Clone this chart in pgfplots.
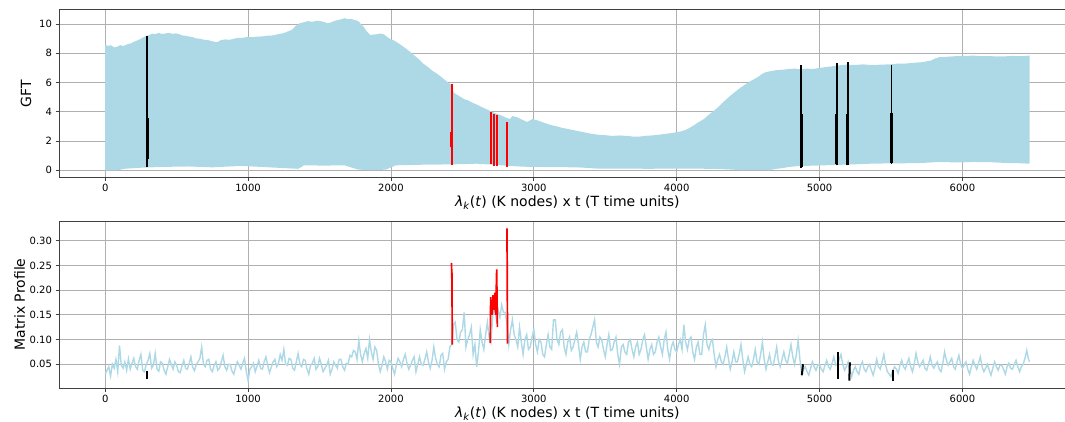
\documentclass[border=0pt]{standalone}
\usepackage{fontspec}
\setmainfont{DejaVu Sans}
\usepackage{pgfplots}
\pgfplotsset{compat=1.18}

\definecolor{lblue}{HTML}{ADD8E6}
\definecolor{gridgray}{HTML}{B0B0B0}
\definecolor{spine}{HTML}{404040}

\pgfplotsset{
  mpl/.style={
    scale only axis,
    width=1016.8pt, height=167pt,
    xmin=-323.5, xmax=6793.5,
    xtick={0,1000,...,6000},
    xtick pos=left, ytick pos=left,
    tick align=outside,
    major tick length=3.5pt,
    grid=major,
    major grid style={line width=0.8pt, color=gridgray},
    axis line style={line width=1pt, color=spine},
    major tick style={line width=0.8pt, color=spine},
    tick label style={font=\fontsize{10}{12}\selectfont},
    label style={font=\fontsize{14}{17}\selectfont},
    /pgf/number format/assume math mode=true,
    /pgf/number format/1000 sep={},
    scaled ticks=false,
    xlabel={\textit{λ}\textsubscript{\textit{k}}(\textit{t}) (K nodes) x t (T time units)},
    xlabel style={at={(axis description cs:0.5,-0.154)}, anchor=center},
  },
}

\begin{document}
\begin{tikzpicture}
% ---------- top: GFT ----------
\begin{axis}[mpl,
  at={(59pt,-10pt)}, anchor=north west,
  ymin=-0.46, ymax=10.96,
  ytick={0,2,...,10},
  ylabel={GFT},
  ylabel style={at={(axis description cs:-0.0325,0.5)}, anchor=center},
]
% envelope of the fast oscillating GFT signal (upper edge, then lower edge back)
\addplot[draw=none, fill=lblue] coordinates {
  (0,0.0) (0,8.6) (20,8.5) (40,8.55) (62,8.4) (84,8.45) (105,8.55) (130,8.5)
  (155,8.62) (181,8.68) (205,8.8) (230,8.9) (260,9.05) (289,9.2) (310,9.25)
  (330,9.35) (350,9.3) (373,9.4) (395,9.32) (420,9.35) (445,9.4) (470,9.33)
  (495,9.36) (518,9.3) (540,9.22) (560,9.2) (585,9.15) (614,9.1) (635,9.02)
  (660,9.0) (690,8.93) (720,8.9) (750,8.82) (783,8.75) (810,8.9) (840,8.95)
  (870,8.92) (904,9.0) (930,9.06) (960,9.05) (995,9.12) (1030,9.1) (1060,9.14)
  (1096,9.15) (1130,9.2) (1160,9.2) (1200,9.28) (1241,9.36) (1260,9.42)
  (1280,9.5) (1295,9.55) (1313,9.66) (1330,9.85) (1340,9.9) (1361,10.05)
  (1390,10.12) (1420,10.2) (1450,10.15) (1482,10.23) (1505,10.2) (1530,10.15)
  (1555,10.05) (1578,10.1) (1600,10.2) (1620,10.25) (1650,10.32) (1675,10.4)
  (1700,10.33) (1720,10.35) (1745,10.28) (1771,10.2) (1790,10.0) (1810,9.8)
  (1830,9.5) (1855,9.25) (1875,9.28) (1900,9.3) (1925,9.35) (1950,9.3)
  (1970,9.15) (1990,9.0) (2020,8.88) (2050,8.7) (2080,8.5) (2108,8.3)
  (2140,8.05) (2170,7.8) (2200,7.55) (2229,7.27) (2260,7.05) (2290,6.8)
  (2320,6.62) (2350,6.4) (2375,6.2) (2400,6.0) (2422,5.85) (2440,5.3)
  (2465,5.15) (2490,5.0) (2515,4.85) (2542,4.77) (2570,4.62) (2600,4.5)
  (2640,4.3) (2687,4.09) (2720,3.95) (2760,3.8) (2800,3.62) (2832,3.5)
  (2850,3.7) (2880,3.64) (2920,3.45) (2952,3.3) (2990,3.5) (3030,3.4)
  (3070,3.25) (3117,3.1) (3160,3.0) (3200,2.9) (3250,2.8) (3300,2.7)
  (3350,2.6) (3400,2.5) (3451,2.43) (3500,2.4) (3550,2.35) (3600,2.38)
  (3650,2.35) (3700,2.3) (3737,2.3) (3790,2.36) (3850,2.4) (3890,2.45)
  (3928,2.5) (3965,2.55) (4000,2.6) (4030,2.66) (4060,2.75) (4090,2.9)
  (4119,3.07) (4155,3.3) (4190,3.5) (4225,3.8) (4263,4.09) (4300,4.4)
  (4330,4.7) (4370,5.05) (4406,5.34) (4440,5.6) (4470,5.8) (4500,6.0)
  (4525,6.14) (4555,6.3) (4580,6.45) (4600,6.6) (4621,6.7) (4660,6.78)
  (4700,6.85) (4745,6.88) (4788,6.93) (4830,6.95) (4870,6.9) (4910,6.95)
  (4955,6.93) (5000,7.0) (5040,7.05) (5080,7.1) (5122,7.16) (5185,7.22)
  (5250,7.2) (5305,7.24) (5361,7.2) (5430,7.22) (5504,7.25) (5550,7.3)
  (5600,7.3) (5660,7.35) (5719,7.39) (5750,7.45) (5780,7.5) (5810,7.65)
  (5838,7.73) (5890,7.76) (5950,7.8) (6010,7.82) (6077,7.84) (6140,7.8)
  (6200,7.8) (6280,7.78) (6350,7.82) (6410,7.8) (6470,7.84)
  (6470,0.45) (6400,0.48) (6300,0.5) (6200,0.55) (6077,0.57) (5990,0.54)
  (5900,0.55) (5838,0.57) (5720,0.5) (5600,0.48) (5480,0.47) (5361,0.45)
  (5230,0.4) (5100,0.36) (5000,0.33) (4900,0.3) (4840,0.28) (4788,0.23)
  (4740,0.15) (4700,0.1) (4645,0.0) (4550,0.02) (4453,0.0) (4380,0.05)
  (4300,0.08) (4167,0.11) (4000,0.12) (3800,0.1) (3620,0.12) (3451,0.11)
  (3380,0.16) (3300,0.2) (3130,0.22) (2974,0.23) (2900,0.26) (2830,0.3)
  (2720,0.38) (2600,0.45) (2500,0.42) (2400,0.4) (2220,0.38) (2035,0.34)
  (2000,0.2) (1965,0.05) (1920,0.02) (1880,0.0) (1820,0.02) (1770,0.05)
  (1720,0.2) (1675,0.34) (1530,0.32) (1390,0.34) (1370,0.2) (1350,0.1)
  (1150,0.2) (950,0.3) (850,0.25) (750,0.2) (580,0.26) (400,0.23)
  (260,0.18) (130,0.1) (90,0.0)
} -- cycle;
% black subsequences
\addplot[black, line width=1.7pt] coordinates {(294,0.2) (294,9.2)};
\addplot[black, line width=3pt] coordinates {(294,0.75) (294,3.6)};
\addplot[black, line width=1.7pt] coordinates {(4871,0.18) (4871,7.2)};
\addplot[black, line width=3pt] coordinates {(4871,0.2) (4871,3.86)};
\addplot[black, line width=1.7pt] coordinates {(5122,0.34) (5122,7.32)};
\addplot[black, line width=3pt] coordinates {(5122,0.4) (5122,3.86)};
\addplot[black, line width=1.7pt] coordinates {(5198,0.34) (5198,7.39)};
\addplot[black, line width=3pt] coordinates {(5198,0.34) (5198,3.86)};
\addplot[black, line width=1.7pt] coordinates {(5504,0.45) (5504,7.23)};
\addplot[black, line width=3pt] coordinates {(5504,0.5) (5504,3.95)};
% red subsequences
\addplot[red, line width=1.9pt] coordinates {(2425,0.37) (2425,5.9)};
\addplot[red, line width=2.4pt] coordinates {(2425,1.6) (2425,2.65)};
\addplot[red, line width=1.7pt] coordinates {(2698,0.42) (2698,4.0)};
\addplot[red, line width=1.7pt] coordinates {(2721,0.26) (2721,3.83)};
\addplot[red, line width=1.7pt] coordinates {(2740,0.3) (2740,3.79)};
\addplot[red, line width=1.7pt] coordinates {(2814,0.22) (2814,3.29)};
\end{axis}

% ---------- bottom: Matrix Profile ----------
\begin{axis}[mpl,
  at={(59pt,-221pt)}, anchor=north west,
  ymin=0.002, ymax=0.340,
  ytick={0.05,0.1,0.15,0.2,0.25,0.3},
  yticklabel style={/pgf/number format/.cd, fixed, fixed zerofill, precision=2},
  ylabel={Matrix Profile},
  ylabel style={at={(axis description cs:-0.0388,0.5)}, anchor=center},
]
\addplot[lblue, line width=1.4pt] table[row sep=\\] {
x y\\
0 0.030\\ 12.5 0.038\\ 25 0.045\\ 37.5 0.026\\ 50 0.050\\ 62.5 0.042\\ 75 0.060\\ 87.5 0.035\\
100 0.088\\ 112.5 0.048\\ 125 0.042\\ 137.5 0.055\\ 150 0.038\\ 162.5 0.061\\ 175 0.040\\ 187.5 0.052\\
200 0.062\\ 212.5 0.045\\ 225 0.040\\ 237.5 0.058\\ 250 0.070\\ 262.5 0.038\\ 275 0.035\\ 287.5 0.050\\
300 0.058\\ 312.5 0.072\\ 325 0.042\\ 337.5 0.048\\ 350 0.072\\ 362.5 0.040\\ 375 0.036\\ 387.5 0.055\\
400 0.052\\ 412.5 0.038\\ 425 0.030\\ 437.5 0.045\\ 450 0.060\\ 462.5 0.050\\ 475 0.040\\ 487.5 0.055\\
500 0.048\\ 512.5 0.035\\ 525 0.033\\ 537.5 0.047\\ 550 0.058\\ 562.5 0.042\\ 575 0.040\\ 587.5 0.052\\
600 0.065\\ 612.5 0.044\\ 625 0.037\\ 637.5 0.050\\ 650 0.055\\ 662.5 0.062\\ 675 0.085\\ 687.5 0.050\\
700 0.045\\ 712.5 0.058\\ 725 0.060\\ 737.5 0.040\\ 750 0.035\\ 762.5 0.048\\ 775 0.055\\ 787.5 0.038\\
800 0.042\\ 812.5 0.055\\ 825 0.068\\ 837.5 0.045\\ 850 0.038\\ 862.5 0.050\\ 875 0.050\\ 887.5 0.036\\
900 0.030\\ 912.5 0.045\\ 925 0.055\\ 937.5 0.048\\ 950 0.040\\ 962.5 0.052\\ 975 0.062\\ 987.5 0.035\\
1000 0.017\\ 1012.5 0.040\\ 1025 0.045\\ 1037.5 0.052\\ 1050 0.035\\ 1062.5 0.046\\ 1075 0.058\\ 1087.5 0.042\\
1100 0.040\\ 1112.5 0.055\\ 1125 0.065\\ 1137.5 0.048\\ 1150 0.033\\ 1162.5 0.044\\ 1175 0.055\\ 1187.5 0.060\\
1200 0.045\\ 1212.5 0.052\\ 1225 0.070\\ 1237.5 0.058\\ 1250 0.080\\ 1262.5 0.050\\ 1275 0.048\\ 1287.5 0.062\\
1300 0.060\\ 1312.5 0.042\\ 1325 0.038\\ 1337.5 0.055\\ 1350 0.072\\ 1362.5 0.050\\ 1375 0.045\\ 1387.5 0.060\\
1400 0.058\\ 1412.5 0.040\\ 1425 0.030\\ 1437.5 0.048\\ 1450 0.052\\ 1462.5 0.062\\ 1475 0.040\\ 1487.5 0.045\\
1500 0.062\\ 1512.5 0.050\\ 1525 0.035\\ 1537.5 0.042\\ 1550 0.048\\ 1562.5 0.058\\ 1575 0.030\\ 1587.5 0.040\\
1600 0.055\\ 1612.5 0.048\\ 1625 0.042\\ 1637.5 0.060\\ 1650 0.060\\ 1662.5 0.045\\ 1675 0.038\\ 1687.5 0.052\\
1700 0.050\\ 1712.5 0.068\\ 1725 0.065\\ 1737.5 0.078\\ 1750 0.075\\ 1762.5 0.060\\ 1775 0.098\\ 1787.5 0.070\\
1800 0.055\\ 1812.5 0.072\\ 1825 0.082\\ 1837.5 0.062\\ 1850 0.100\\ 1862.5 0.075\\ 1875 0.060\\ 1887.5 0.085\\
1900 0.078\\ 1912.5 0.050\\ 1925 0.035\\ 1937.5 0.048\\ 1950 0.065\\ 1962.5 0.055\\ 1975 0.040\\ 1987.5 0.058\\
2000 0.055\\ 2012.5 0.042\\ 2025 0.030\\ 2037.5 0.048\\ 2050 0.062\\ 2062.5 0.055\\ 2075 0.045\\ 2087.5 0.060\\
2100 0.070\\ 2112.5 0.052\\ 2125 0.040\\ 2137.5 0.048\\ 2150 0.058\\ 2162.5 0.065\\ 2175 0.035\\ 2187.5 0.050\\
2200 0.065\\ 2212.5 0.050\\ 2225 0.048\\ 2237.5 0.060\\ 2250 0.075\\ 2262.5 0.055\\ 2275 0.042\\ 2287.5 0.058\\
2300 0.085\\ 2312.5 0.062\\ 2325 0.050\\ 2337.5 0.045\\ 2350 0.068\\ 2362.5 0.072\\ 2375 0.040\\ 2387.5 0.055\\
2400 0.060\\ 2412.5 0.085\\ 2425 0.090\\ 2437.5 0.130\\ 2450 0.135\\ 2462.5 0.100\\ 2475 0.095\\ 2487.5 0.115\\
2500 0.120\\ 2512.5 0.155\\ 2525 0.085\\ 2537.5 0.100\\ 2550 0.110\\ 2562.5 0.125\\ 2575 0.070\\ 2587.5 0.090\\
2600 0.045\\ 2612.5 0.075\\ 2625 0.120\\ 2637.5 0.095\\ 2650 0.080\\ 2662.5 0.110\\ 2675 0.135\\ 2687.5 0.105\\
2700 0.095\\ 2712.5 0.150\\ 2725 0.165\\ 2737.5 0.140\\ 2750 0.160\\ 2762.5 0.145\\ 2775 0.170\\ 2787.5 0.155\\
2800 0.155\\ 2812.5 0.130\\ 2825 0.090\\ 2837.5 0.120\\ 2850 0.140\\ 2862.5 0.110\\ 2875 0.100\\ 2887.5 0.085\\
2900 0.125\\ 2912.5 0.095\\ 2925 0.070\\ 2937.5 0.100\\ 2950 0.110\\ 2962.5 0.080\\ 2975 0.085\\ 2987.5 0.105\\
3000 0.120\\ 3012.5 0.090\\ 3025 0.075\\ 3037.5 0.100\\ 3050 0.095\\ 3062.5 0.070\\ 3075 0.065\\ 3087.5 0.090\\
3100 0.110\\ 3112.5 0.085\\ 3125 0.080\\ 3137.5 0.140\\ 3150 0.140\\ 3162.5 0.100\\ 3175 0.090\\ 3187.5 0.115\\
3200 0.120\\ 3212.5 0.085\\ 3225 0.070\\ 3237.5 0.095\\ 3250 0.105\\ 3262.5 0.078\\ 3275 0.085\\ 3287.5 0.100\\
3300 0.115\\ 3312.5 0.090\\ 3325 0.060\\ 3337.5 0.085\\ 3350 0.095\\ 3362.5 0.075\\ 3375 0.075\\ 3387.5 0.100\\
3400 0.110\\ 3412.5 0.125\\ 3425 0.140\\ 3437.5 0.095\\ 3450 0.085\\ 3462.5 0.105\\ 3475 0.100\\ 3487.5 0.080\\
3500 0.065\\ 3512.5 0.090\\ 3525 0.110\\ 3537.5 0.078\\ 3550 0.080\\ 3562.5 0.095\\ 3575 0.105\\ 3587.5 0.070\\
3600 0.050\\ 3612.5 0.085\\ 3625 0.090\\ 3637.5 0.075\\ 3650 0.070\\ 3662.5 0.095\\ 3675 0.100\\ 3687.5 0.080\\
3700 0.065\\ 3712.5 0.085\\ 3725 0.095\\ 3737.5 0.070\\ 3750 0.080\\ 3762.5 0.100\\ 3775 0.110\\ 3787.5 0.085\\
3800 0.060\\ 3812.5 0.080\\ 3825 0.090\\ 3837.5 0.070\\ 3850 0.075\\ 3862.5 0.095\\ 3875 0.105\\ 3887.5 0.085\\
3900 0.070\\ 3912.5 0.100\\ 3925 0.115\\ 3937.5 0.080\\ 3950 0.060\\ 3962.5 0.085\\ 3975 0.095\\ 3987.5 0.080\\
4000 0.075\\ 4012.5 0.090\\ 4025 0.100\\ 4037.5 0.080\\ 4050 0.130\\ 4062.5 0.095\\ 4075 0.080\\ 4087.5 0.100\\
4100 0.105\\ 4112.5 0.075\\ 4125 0.060\\ 4137.5 0.085\\ 4150 0.095\\ 4162.5 0.070\\ 4175 0.070\\ 4187.5 0.110\\
4200 0.130\\ 4212.5 0.090\\ 4225 0.080\\ 4237.5 0.095\\ 4250 0.100\\ 4262.5 0.070\\ 4275 0.045\\ 4287.5 0.060\\
4300 0.070\\ 4312.5 0.055\\ 4325 0.050\\ 4337.5 0.065\\ 4350 0.085\\ 4362.5 0.060\\ 4375 0.040\\ 4387.5 0.055\\
4400 0.075\\ 4412.5 0.055\\ 4425 0.055\\ 4437.5 0.070\\ 4450 0.090\\ 4462.5 0.060\\ 4475 0.035\\ 4487.5 0.050\\
4500 0.065\\ 4512.5 0.050\\ 4525 0.045\\ 4537.5 0.060\\ 4550 0.080\\ 4562.5 0.055\\ 4575 0.050\\ 4587.5 0.070\\
4600 0.095\\ 4612.5 0.060\\ 4625 0.040\\ 4637.5 0.055\\ 4650 0.070\\ 4662.5 0.050\\ 4675 0.048\\ 4687.5 0.065\\
4700 0.085\\ 4712.5 0.055\\ 4725 0.045\\ 4737.5 0.060\\ 4750 0.075\\ 4762.5 0.058\\ 4775 0.052\\ 4787.5 0.070\\
4800 0.090\\ 4812.5 0.065\\ 4825 0.050\\ 4837.5 0.070\\ 4850 0.098\\ 4862.5 0.060\\ 4875 0.030\\ 4887.5 0.040\\
4900 0.045\\ 4912.5 0.035\\ 4925 0.028\\ 4937.5 0.042\\ 4950 0.055\\ 4962.5 0.045\\ 4975 0.038\\ 4987.5 0.048\\
5000 0.050\\ 5012.5 0.040\\ 5025 0.035\\ 5037.5 0.048\\ 5050 0.058\\ 5062.5 0.045\\ 5075 0.040\\ 5087.5 0.052\\
5100 0.065\\ 5112.5 0.048\\ 5125 0.050\\ 5137.5 0.060\\ 5150 0.070\\ 5162.5 0.050\\ 5175 0.038\\ 5187.5 0.045\\
5200 0.055\\ 5212.5 0.040\\ 5225 0.025\\ 5237.5 0.038\\ 5250 0.045\\ 5262.5 0.035\\ 5275 0.030\\ 5287.5 0.048\\
5300 0.055\\ 5312.5 0.040\\ 5325 0.035\\ 5337.5 0.045\\ 5350 0.050\\ 5362.5 0.038\\ 5375 0.028\\ 5387.5 0.042\\
5400 0.060\\ 5412.5 0.045\\ 5425 0.040\\ 5437.5 0.055\\ 5450 0.070\\ 5462.5 0.048\\ 5475 0.035\\ 5487.5 0.030\\
5500 0.025\\ 5512.5 0.038\\ 5525 0.045\\ 5537.5 0.040\\ 5550 0.032\\ 5562.5 0.048\\ 5575 0.058\\ 5587.5 0.045\\
5600 0.040\\ 5612.5 0.052\\ 5625 0.062\\ 5637.5 0.045\\ 5650 0.035\\ 5662.5 0.050\\ 5675 0.072\\ 5687.5 0.055\\
5700 0.045\\ 5712.5 0.052\\ 5725 0.058\\ 5737.5 0.042\\ 5750 0.038\\ 5762.5 0.050\\ 5775 0.065\\ 5787.5 0.048\\
5800 0.042\\ 5812.5 0.050\\ 5825 0.055\\ 5837.5 0.040\\ 5850 0.035\\ 5862.5 0.052\\ 5875 0.075\\ 5887.5 0.058\\
5900 0.048\\ 5912.5 0.055\\ 5925 0.062\\ 5937.5 0.045\\ 5950 0.040\\ 5962.5 0.055\\ 5975 0.068\\ 5987.5 0.050\\
6000 0.042\\ 6012.5 0.048\\ 6025 0.055\\ 6037.5 0.040\\ 6050 0.030\\ 6062.5 0.045\\ 6075 0.058\\ 6087.5 0.048\\
6100 0.040\\ 6112.5 0.052\\ 6125 0.065\\ 6137.5 0.045\\ 6150 0.035\\ 6162.5 0.042\\ 6175 0.050\\ 6187.5 0.038\\
6200 0.028\\ 6212.5 0.042\\ 6225 0.055\\ 6237.5 0.045\\ 6250 0.038\\ 6262.5 0.048\\ 6275 0.048\\ 6287.5 0.040\\
6300 0.030\\ 6312.5 0.045\\ 6325 0.052\\ 6337.5 0.042\\ 6350 0.040\\ 6362.5 0.050\\ 6375 0.058\\ 6387.5 0.045\\
6400 0.035\\ 6412.5 0.045\\ 6425 0.050\\ 6437.5 0.062\\ 6450 0.078\\ 6462.5 0.060\\ 6470 0.055\\
};
% black subsequences
\addplot[black, line width=2pt] coordinates {(294,0.020) (294,0.036)};
\addplot[black, line width=2pt] coordinates {(4876,0.028) (4884,0.050)};
\addplot[black, line width=2pt] coordinates {(5129,0.020) (5129,0.074)};
\addplot[black, line width=2pt] coordinates {(5208,0.017) (5212,0.054)};
\addplot[black, line width=2pt] coordinates {(5511,0.017) (5511,0.039)};
% red subsequences
\addplot[red, line width=1.7pt] coordinates {(2424,0.255) (2426,0.225) (2427,0.235) (2429,0.09)};
\addplot[red, line width=1.7pt] coordinates {
  (2695,0.093) (2698,0.186) (2708,0.15) (2715,0.19) (2722,0.16) (2728,0.195)
  (2733,0.15) (2740,0.242) (2745,0.125)};
\addplot[red, line width=1.7pt] coordinates {(2812,0.325) (2814,0.22) (2816,0.092)};
\end{axis}
\pgfresetboundingbox
\path[use as bounding box] (0,0) rectangle (1065pt,-422pt);
\end{tikzpicture}
\end{document}
